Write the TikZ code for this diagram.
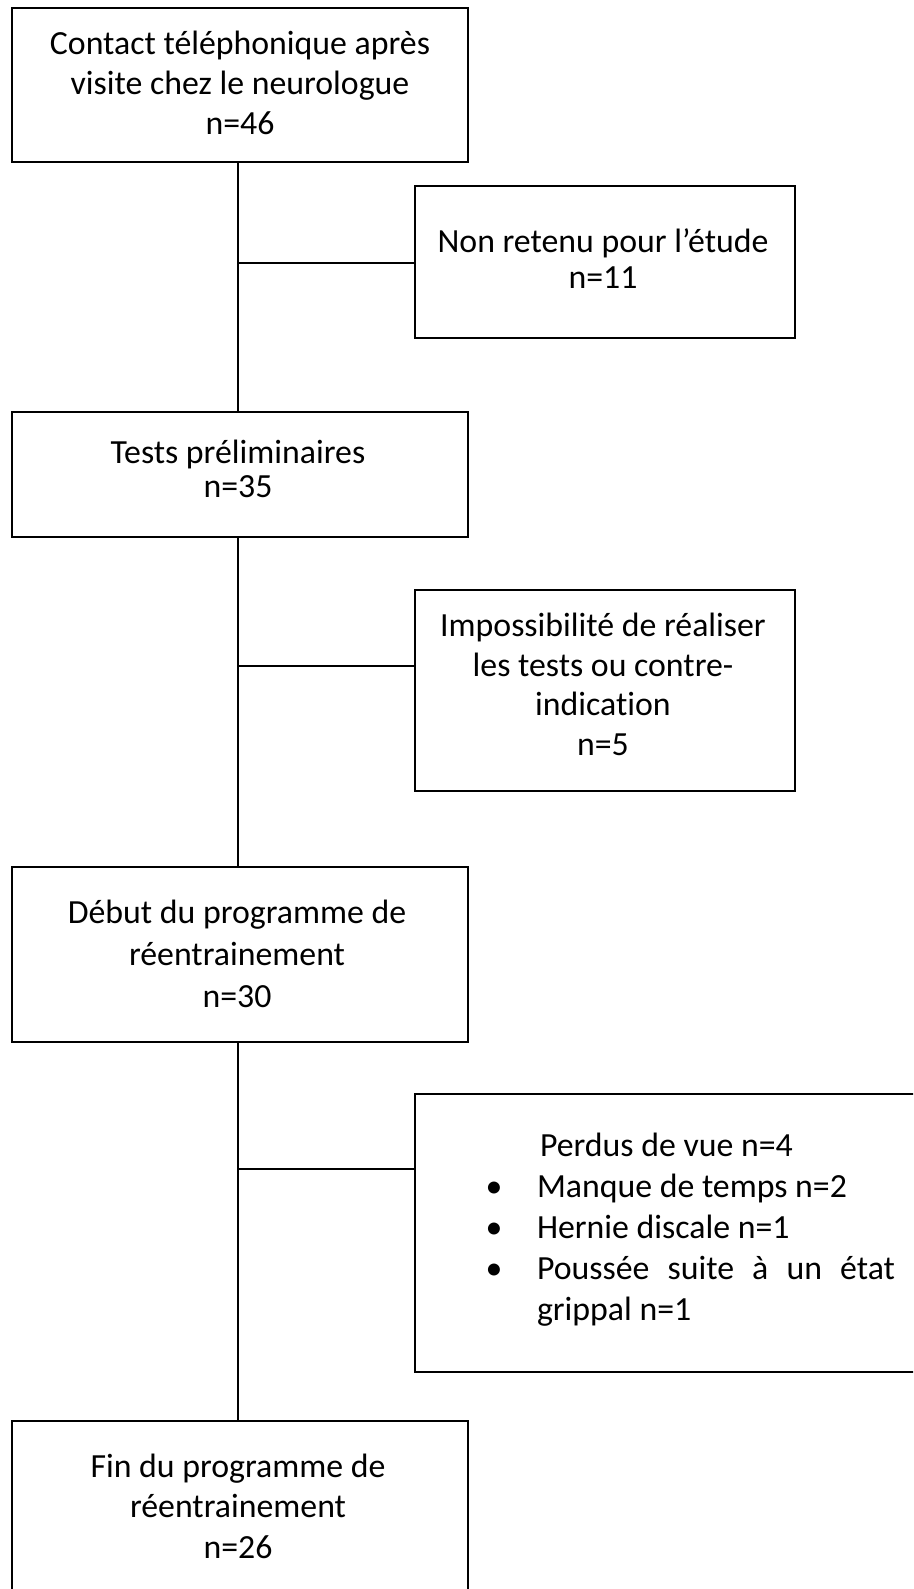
\documentclass[tikz,border=0pt]{standalone}
\usepackage{fontspec}
\setmainfont{Carlito}[Ligatures=NoCommon]
\newcommand{\bulitem}{\llap{\makebox[24pt]{•}\hspace{31pt}}}
\begin{document}
\begin{tikzpicture}[x=1pt,y=-1pt,
  box/.style={draw, line width=2.9pt, rectangle, inner sep=0pt, outer sep=0pt},
  link/.style={line width=2.4pt},
  txt/.style={inner sep=0pt, outer sep=0pt, align=center, font=\fontsize{33.8}{#1}\selectfont},
  ]
\useasboundingbox (0,0) rectangle (913,1589);
\clip (0,0) rectangle (913,1589);
\fill[white] (0,0) rectangle (913,1589);

% boxes
\node[box, minimum width=456, minimum height=154] (b1) at (240,85) {};
\node[box, minimum width=380, minimum height=152] (n1) at (605,262) {};
\node[box, minimum width=456, minimum height=125] (b2) at (240,474.5) {};
\node[box, minimum width=380, minimum height=201] (n2) at (605,690.5) {};
\node[box, minimum width=456, minimum height=175] (b3) at (240,954.5) {};
\node[box, minimum width=505, minimum height=278] (n3) at (667.5,1233) {};
\node[box, minimum width=456, minimum height=179] (b4) at (240,1510.5) {};

% texts (anchored at the baseline of their last line)
\node[txt=40, anchor=base] (t1) at (240,135) {Contact téléphonique après\\visite chez le neurologue\\n=46};
\node[txt=36, anchor=base] (t2) at (603,288) {Non retenu pour l’étude\\n=11};
\node[txt=34, anchor=base] (t3) at (238,497) {Tests préliminaires\\n=35};
\node[txt=39.5, anchor=base] (t4) at (603,755) {Impossibilité de réaliser\\les tests ou contre-\\indication\\n=5};
\node[txt=42, anchor=base] (t5) at (237,1007) {Début du programme de\\réentrainement\\n=30};
\node[txt=41, align=left, anchor=base west] (t6) at (537,1320) {\hspace*{3pt}Perdus de vue n=4\\
  \bulitem Manque de temps n=2\\
  \bulitem Hernie discale n=1\\
  \bulitem \makebox[358pt][s]{Poussée suite à un état}\\
  grippal n=1};
\node[txt=40.5, anchor=base] (t7) at (238,1558) {Fin du programme de\\réentrainement\\n=26};

% connectors
\coordinate (j1) at (238,263);
\coordinate (j2) at (238,666);
\coordinate (j3) at (238,1169);
\draw[link] ([xshift=-2pt]b1.south) -- ([xshift=-2pt]b2.north);
\draw[link] ([xshift=-2pt]b2.south) -- ([xshift=-2pt]b3.north);
\draw[link] ([xshift=-2pt]b3.south) -- ([xshift=-2pt]b4.north);
\draw[link] (j1) -- (j1 -| n1.west);
\draw[link] (j2) -- (j2 -| n2.west);
\draw[link] (j3) -- (j3 -| n3.west);
\end{tikzpicture}
\end{document}
